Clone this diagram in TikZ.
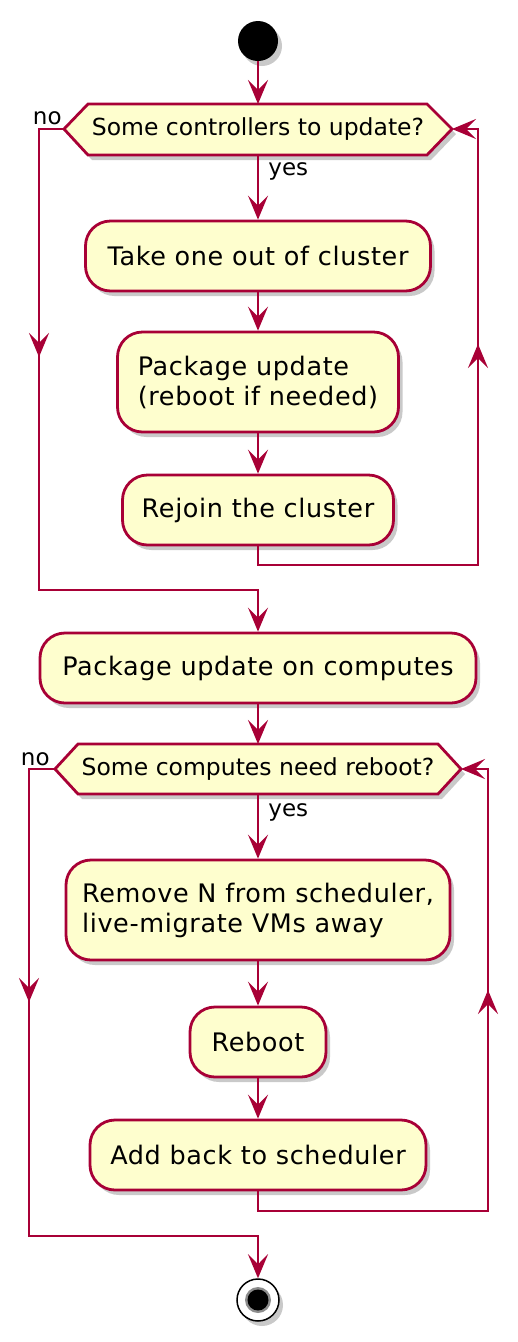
\documentclass[tikz,border=0pt]{standalone}
\usepackage{fontspec}
\setmainfont{DejaVu Sans}
\newfontfamily\umlfont[LetterSpace=2.5]{DejaVu Sans}
\usetikzlibrary{arrows.meta,shadows,positioning}
\definecolor{umlred}{HTML}{A80036}
\definecolor{umlfill}{HTML}{FEFECE}

\begin{document}
\begin{tikzpicture}[x=1pt,y=-1pt,
    line width=2.8pt,
    shad/.style={drop shadow={shadow xshift=4pt,shadow yshift=-5pt,opacity=0.35,fill=black!60}},
    act/.style={draw=umlred,fill=umlfill,rounded corners=25pt,minimum height=70pt,
      align=left,inner sep=0pt,font=\umlfont\fontsize{25.5}{30}\selectfont,shad},
    dec/.style={draw=umlred,fill=umlfill,line join=miter,shad},
    dectext/.style={font=\fontsize{23.5}{28}\selectfont,inner sep=0pt},
    lbl/.style={font=\fontsize{23}{27}\selectfont,inner sep=1pt},
    flow/.style={draw=umlred,-{Stealth[length=24pt,width=20pt,inset=10pt]}},
    link/.style={draw=umlred}]
  \path[fill=white,use as bounding box] (0,0) rectangle (518,1342);

  % start
  \fill[black,shad] (258,41) circle (20);
  \coordinate (start) at (258,61);

  % first loop: controllers
  \coordinate (d1w) at (64,129);
  \coordinate (d1e) at (452,129);
  \coordinate (d1n) at (258,104);
  \coordinate (d1s) at (258,155);
  \path[dec] (d1w) -- (88,104) -- (427,104) -- (d1e) -- (427,155) -- (88,155) -- cycle;
  \node[dectext] (d1) at (258,129) {Some controllers to update?};
  \node[lbl,anchor=base east] (no1) at ([yshift=5pt]d1w) {no};
  \node[lbl,anchor=base west] (yes1) at ([xshift=8pt,yshift=-20pt]d1s) {yes};

  \node[act,minimum width=345pt] (take) at (258,256) {Take one out of cluster};
  \node[act,minimum width=281pt,minimum height=100pt] (pkg) at (258,382)
    {Package update\\(reboot if needed)};
  \node[act,minimum width=271pt] (rejoin) at (258,510) {Rejoin the cluster};

  \node[act,minimum width=436pt] (comp) at (258,668) {Package update on computes};

  \coordinate (m1) at (39,357);
  \coordinate (j1) at (39,590);
  \coordinate (l1) at (478,565);
  \coordinate (u1) at (478,344);

  \draw[flow] (start) -- (d1n);
  \draw[flow] (d1s) -- (take);
  \draw[flow] (take) -- (pkg);
  \draw[flow] (pkg) -- (rejoin);
  \draw[flow] (rejoin.south) |- (l1) |- (d1e);
  \draw[flow] (rejoin.south) |- (l1) -- (u1);
  \draw[flow] (d1w) -| (j1) -| (comp);
  \draw[flow] (d1w) -| (m1);

  % second loop: computes
  \coordinate (d2w) at (55,769);
  \coordinate (d2e) at (461,769);
  \coordinate (d2n) at (258,744);
  \coordinate (d2s) at (258,794);
  \path[dec] (d2w) -- (78,744) -- (438,744) -- (d2e) -- (438,794) -- (78,794) -- cycle;
  \node[dectext] (d2) at (258,769) {Some computes need reboot?};
  \node[lbl,anchor=base east] (no2) at ([xshift=-3pt,yshift=4pt]d2w) {no};
  \node[lbl,anchor=base west] (yes2) at ([xshift=8pt,yshift=-22pt]d2s) {yes};

  \node[act,minimum width=384pt,minimum height=100pt] (remove) at (258,910)
    {Remove N from scheduler,\\live-migrate VMs away};
  \node[act,minimum width=136pt] (reboot) at (258,1042) {Reboot};
  \node[act,minimum width=336pt] (addback) at (258,1155) {Add back to scheduler};

  % stop
  \node[circle,draw=black,fill=white,line width=1.5pt,minimum size=42pt,inner sep=0pt,shad]
    (stop) at (258,1300) {};
  \fill[black!45] (stop) circle (13);
  \fill[black] (stop) circle (10.5);

  \coordinate (m2) at (29,1002);
  \coordinate (j2) at (29,1236);
  \coordinate (l2) at (488,1211);
  \coordinate (u2) at (488,990);

  \draw[flow] (comp) -- (d2n);
  \draw[flow] (d2s) -- (remove);
  \draw[flow] (remove) -- (reboot);
  \draw[flow] (reboot) -- (addback);
  \draw[flow] (addback.south) |- (l2) |- (d2e);
  \draw[flow] (addback.south) |- (l2) -- (u2);
  \draw[flow] (d2w) -| (j2) -| (stop);
  \draw[flow] (d2w) -| (m2);
\end{tikzpicture}
\end{document}
